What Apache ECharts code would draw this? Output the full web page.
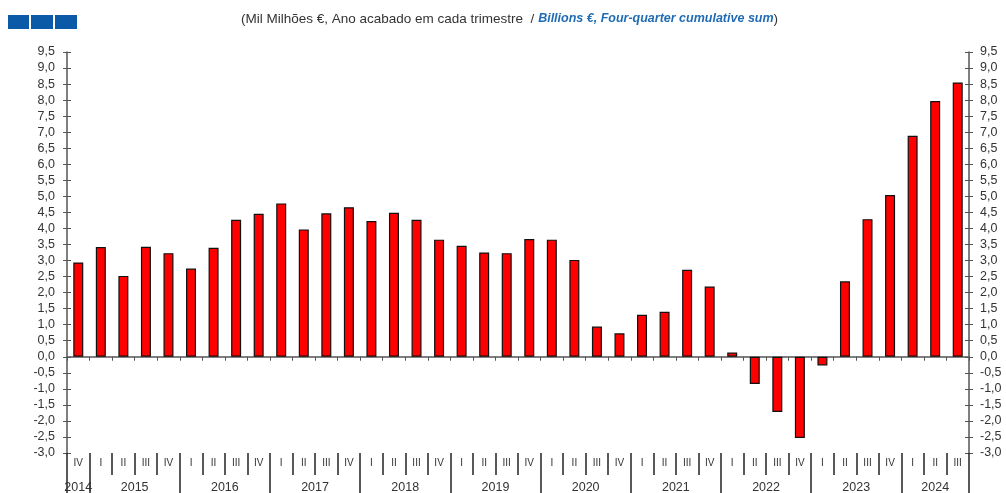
<!DOCTYPE html>
<html>
<head>
<meta charset="utf-8">
<script src="https://cdn.jsdelivr.net/npm/echarts@6/dist/echarts.min.js"></script>
<style>
  html, body { margin: 0; padding: 0; background: #fff; }
  #chart { width: 1006px; height: 493px; }
</style>
</head>
<body>
<div id="chart"></div>
<script>
// trimestres, de 2014 IV a 2024 III
const quarters = ['IV',
  'I', 'II', 'III', 'IV', 'I', 'II', 'III', 'IV', 'I', 'II', 'III', 'IV',
  'I', 'II', 'III', 'IV', 'I', 'II', 'III', 'IV', 'I', 'II', 'III', 'IV',
  'I', 'II', 'III', 'IV', 'I', 'II', 'III', 'IV', 'I', 'II', 'III', 'IV',
  'I', 'II', 'III'];
const years = ['2014', '2015', '2016', '2017', '2018', '2019', '2020', '2021', '2022', '2023', '2024'];
// Mil Milhões €, soma de quatro trimestres
const values = [2.94,
  3.42, 2.52, 3.43, 3.23,
  2.75, 3.40, 4.27, 4.46,
  4.78, 3.97, 4.47, 4.66,
  4.23, 4.49, 4.27, 3.65,
  3.46, 3.25, 3.23, 3.67,
  3.65, 3.02, 0.94, 0.73,
  1.31, 1.40, 2.71, 2.19,
  0.13, -0.85, -1.72, -2.53,
  -0.27, 2.35, 4.29, 5.04,
  6.89, 7.97, 8.55];
const yTicks = { min: -3, max: 9.5, interval: 0.5 };

// inicio de cada ano dentro dos trimestres (novo ano em cada 'I')
const yearStarts = [0];
quarters.forEach((q, i) => { if (i > 0 && q === 'I') yearStarts.push(i); });
const yearEnds = yearStarts.slice(1).concat([quarters.length]);
// eixo dos anos: meios-trimestres (pontos 0..80)
const halfPoints = [];
for (let i = 0; i <= quarters.length * 2; i++) halfPoints.push(String(i));
const yearLabelAt = {};
years.forEach((y, k) => { yearLabelAt[yearStarts[k] + yearEnds[k]] = y; });
const yearTickAt = {};
yearStarts.concat([quarters.length]).forEach(s => { yearTickAt[s * 2] = true; });

const fmt = v => v.toFixed(1).replace('.', ',');
const axisGray = '#555';
const txt = '#333';

const myChart = echarts.init(document.getElementById('chart'));

const yBase = {
  type: 'value', min: yTicks.min, max: yTicks.max, interval: yTicks.interval,
  splitLine: { show: false }
};

const option = {
  animation: false,
  textStyle: { fontFamily: 'Liberation Sans, Arial, sans-serif' },
  title: {
    left: 236, top: 7,
    text: '{a|(Mil Milhões €, Ano acabado em cada trimestre  / }{b|Billions €, Four-quarter cumulative sum}{a|)}',
    textStyle: {
      fontWeight: 'normal',
      rich: {
        a: { color: txt, fontSize: 13.5, fontWeight: 'normal', fontFamily: 'Liberation Sans' },
        b: { color: '#1f6cb4', fontSize: 12.5, fontStyle: 'italic', fontWeight: 'bold', fontFamily: 'Liberation Sans' }
      }
    }
  },
  graphic: [
    { type: 'rect', shape: { x: 8, y: 15, width: 21, height: 14 }, style: { fill: '#0b5aa8' } },
    { type: 'rect', shape: { x: 31, y: 15, width: 22, height: 14 }, style: { fill: '#0b5aa8' } },
    { type: 'rect', shape: { x: 55, y: 15, width: 22, height: 14 }, style: { fill: '#0b5aa8' } }
  ],
  grid: { left: 67, right: 37, top: 52, bottom: 40, outerBoundsMode: 'none' },
  xAxis: [
    { // trimestres
      type: 'category', data: quarters, position: 'bottom',
      axisLine: { show: false, onZero: false },
      axisTick: { show: true, interval: 0, length: 22, lineStyle: { color: '#222', width: 1.5 } },
      axisLabel: { interval: 0, margin: 5, fontSize: 10, color: txt }
    },
    { // anos
      type: 'category', data: halfPoints, boundaryGap: false, position: 'bottom',
      axisLine: { show: false, onZero: false },
      axisTick: { show: true, length: 40, interval: idx => !!yearTickAt[idx], lineStyle: { color: '#222', width: 1.5 } },
      axisLabel: { interval: 0, margin: 28, fontSize: 12.5, color: txt, formatter: (v, idx) => yearLabelAt[idx] || '' }
    },
    { // linha do zero
      type: 'category', data: quarters, position: 'bottom',
      axisLine: { show: true, onZero: true, onZeroAxisIndex: 0, lineStyle: { color: axisGray, width: 1.5 } },
      axisTick: { show: true, interval: 0, length: 4, lineStyle: { color: axisGray } },
      axisLabel: { show: false }
    }
  ],
  yAxis: [
    Object.assign({}, yBase, {
      position: 'left',
      axisLine: { show: true, lineStyle: { color: axisGray, width: 1.5 } },
      axisTick: { show: true, length: 4, lineStyle: { color: axisGray } },
      axisLabel: { margin: 12, fontSize: 12.5, color: txt, formatter: fmt }
    }),
    Object.assign({}, yBase, {
      position: 'right',
      axisLine: { show: true, lineStyle: { color: axisGray, width: 1.5 } },
      axisTick: { show: true, length: 4, lineStyle: { color: axisGray } },
      axisLabel: { margin: 11, fontSize: 12.5, color: txt, formatter: fmt }
    }),
    Object.assign({}, yBase, {
      position: 'left',
      axisLine: { show: false },
      axisTick: { show: true, inside: true, length: 4, lineStyle: { color: axisGray } },
      axisLabel: { show: false }
    }),
    Object.assign({}, yBase, {
      position: 'right',
      axisLine: { show: false },
      axisTick: { show: true, inside: true, length: 4, lineStyle: { color: axisGray } },
      axisLabel: { show: false }
    })
  ],
  series: [{
    type: 'bar',
    xAxisIndex: 0,
    yAxisIndex: 0,
    data: values,
    barWidth: 10,
    itemStyle: { color: '#ff0000', borderColor: '#111', borderWidth: 1.2 }
  }]
};

myChart.setOption(option);
window.onresize = myChart.resize;
</script>
</body>
</html>
